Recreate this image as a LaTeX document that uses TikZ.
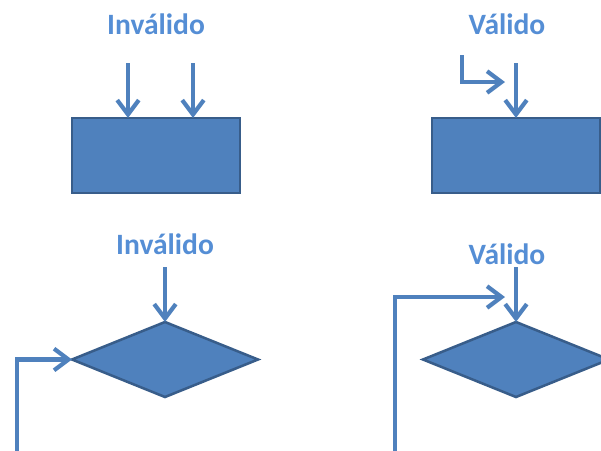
\documentclass[tikz,border=0pt]{standalone}
\usepackage{fontspec}
\setmainfont{Carlito}
\usetikzlibrary{arrows.meta,shapes.geometric}

\definecolor{boxfill}{HTML}{4F81BD}
\definecolor{boxline}{HTML}{385D8A}
\definecolor{labelblue}{HTML}{558ED5}

\tikzset{
  block/.style={draw=boxline, fill=boxfill, line width=1.8pt, rectangle,
    minimum width=4.2cm, minimum height=1.875cm, inner sep=0pt, outer sep=0pt},
  decision/.style={draw=boxline, fill=boxfill, line width=1.8pt, diamond,
    minimum width=4.65cm, minimum height=1.875cm, inner sep=0pt, outer sep=0pt},
  flow/.style={draw=boxfill, line width=3pt,
    -{Straight Barb[length=3.6mm, width=5.4mm]}},
  caption/.style={text=labelblue, font=\bfseries\fontsize{21}{24}\selectfont}
}

\begin{document}
\begin{tikzpicture}[x=0.025cm, y=-0.025cm]
        \useasboundingbox (0,0) rectangle (601,450);
        \clip (0,0) rectangle (601,450);

        % top row
        \node[caption] (lblA) at (156,24) {Inválido};
        \node[caption] (lblB) at (507,24) {Válido};
        \node[block] (boxA) at (156,155.5) {};
        \node[block] (boxB) at (516,155.5) {};
        \coordinate (inA1) at (128,63);
        \coordinate (inA2) at (193,63);
        \coordinate (inB) at (516,63);
        \coordinate (loopB) at (462,55);
        \coordinate (loopBend) at (505,82);
        \draw[flow] (inA1) -- (inA1 |- boxA.north);
        \draw[flow] (inA2) -- (inA2 |- boxA.north);
        \draw[flow] (inB) -- (boxB.north);
        \draw[flow] (loopB) |- (loopBend);

        % bottom row
        \node[caption] (lblC) at (165,244) {Inválido};
        \node[caption] (lblD) at (507,254) {Válido};
        \node[decision] (diaC) at (165,359.5) {};
        \node[decision] (diaD) at (516,359.5) {};
        \coordinate (inC) at (165,267);
        \coordinate (inD) at (516,267);
        \coordinate (loopC) at (17,455);
        \coordinate (loopD) at (395,455);
        \coordinate (loopDend) at (505,297);
        \draw[flow] (inC) -- (diaC.north);
        \draw[flow] (inD) -- (diaD.north);
        \draw[flow] (loopC) |- (diaC.west);
        \draw[flow] (loopD) |- (loopDend);
    \end{tikzpicture}
\end{document}
